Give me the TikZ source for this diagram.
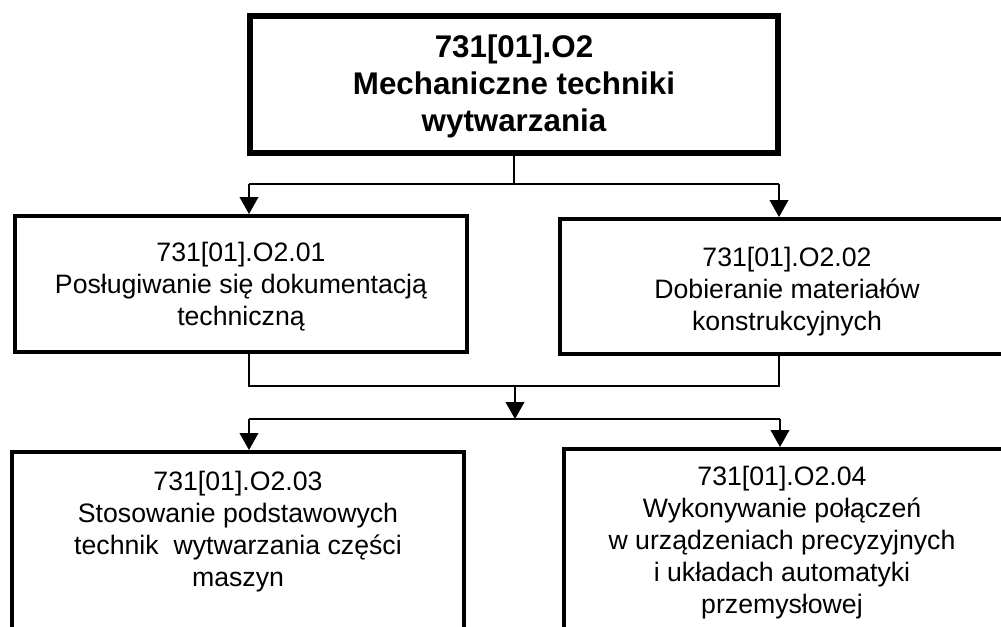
\documentclass[tikz,border=0pt]{standalone}
\usepackage{fontspec}
\setmainfont{Liberation Sans}
\usetikzlibrary{arrows.meta}
\newcommand{\mlines}[1]{\begin{tabular}[t]{@{}c@{}}#1\end{tabular}}
\begin{document}
\begin{tikzpicture}[x=0.75pt,y=-0.75pt,
  boxtop/.style={draw, line width=4.5pt, inner sep=0pt, minimum width=396pt, minimum height=102.75pt},
  boxmid/.style={draw, line width=3pt, inner sep=0pt},
  txtbold/.style={anchor=base, inner sep=0pt, font=\fontsize{23.5}{28}\bfseries\selectfont},
  txtreg/.style={anchor=base, inner sep=0pt, font=\fontsize{20}{24}\selectfont},
  conn/.style={line width=1.4pt},
  arr/.style={line width=1.4pt, -{Triangle[width=14pt,length=12.75pt]}}]
\useasboundingbox (0,0) rectangle (1001,626);
\clip (0,0) rectangle (1001,626);
\fill[white] (0,0) rectangle (1001,626);
% boxes
\node[boxtop] (top) at (514,84.5) {};
\node[boxmid, minimum width=339pt, minimum height=102pt] (ul) at (241,284) {};
\node[boxmid, minimum width=340.5pt, minimum height=101.25pt] (ur) at (787,286.5) {};
\node[boxmid, minimum width=339pt, minimum height=186pt] (bl) at (238,576) {};
\node[boxmid, minimum width=334.5pt, minimum height=186pt] (br) at (787,573) {};
% texts
\node[txtbold] (ttop) at (514,57) {\mlines{731[01].O2\\Mechaniczne techniki\\wytwarzania}};
\node[txtreg] (tul) at (241,261) {\mlines{731[01].O2.01\\Posługiwanie się dokumentacją\\techniczną}};
\node[txtreg] (tur) at (787,266) {\mlines{731[01].O2.02\\Dobieranie materiałów\\konstrukcyjnych}};
\node[txtreg] (tbl) at (238,490) {\mlines{731[01].O2.03\\Stosowanie podstawowych\\technik\ \ wytwarzania części\\maszyn}};
\node[txtreg] (tbr) at (782,485) {\mlines{731[01].O2.04\\Wykonywanie połączeń\\w urządzeniach precyzyjnych\\i układach automatyki\\przemysłowej}};
% junctions
\coordinate (jL) at (249,184);
\coordinate (jR) at (779,184);
\coordinate (mL) at (249,386);
\coordinate (mR) at (779,386);
\coordinate (mC) at (515,386);
\coordinate (sC) at (515,419);
\coordinate (sL) at (249,419);
\coordinate (sR) at (780,419);
% connectors
\draw[conn] (top.south) -- (top.south |- jL);
\draw[conn] (jL) -- (jR);
\draw[arr] (jL) -- (jL |- ul.north);
\draw[arr] (jR) -- (jR |- ur.north);
\draw[conn] (jL |- ul.south) -- (mL) -- (mR) -- (jR |- ur.south);
\draw[arr] (mC) -- (sC);
\draw[conn] (sL) -- (sR);
\draw[arr] (sL) -- (sL |- bl.north);
\draw[arr] (sR) -- (sR |- br.north);
\end{tikzpicture}
\end{document}
